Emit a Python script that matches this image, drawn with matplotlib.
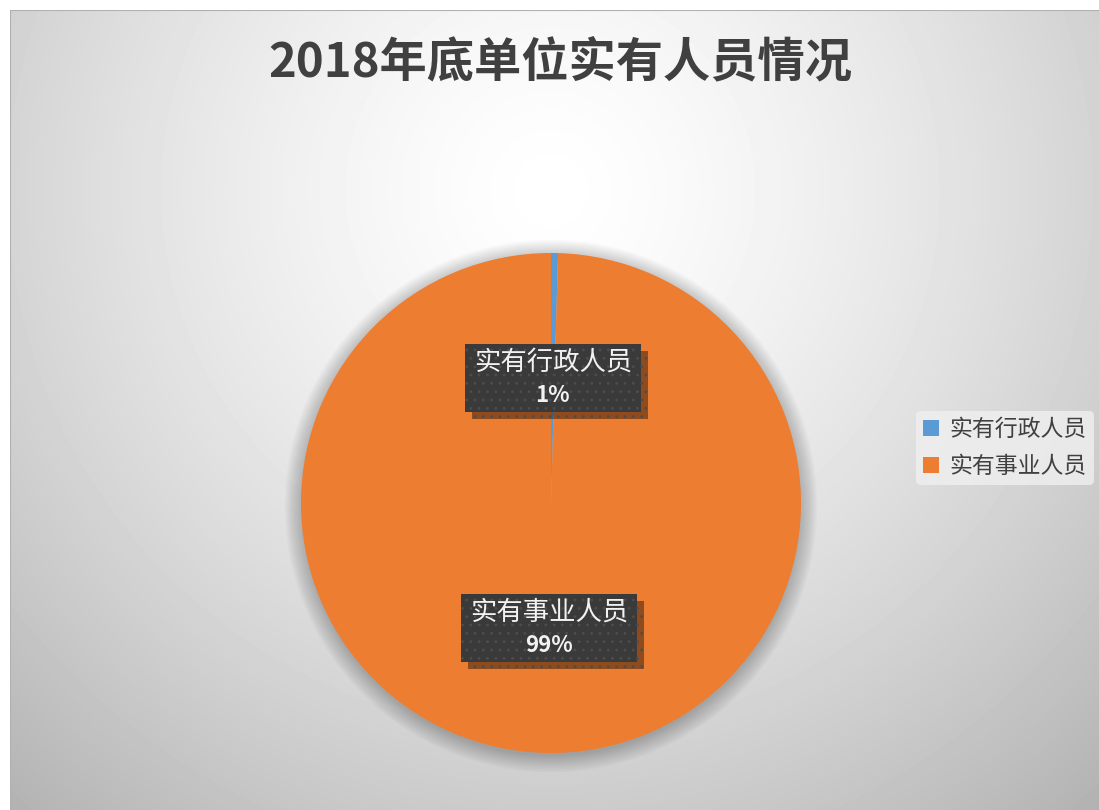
import numpy as np
import matplotlib
matplotlib.use('Agg')
import matplotlib.pyplot as plt
import matplotlib.patheffects as pe
from matplotlib.patches import Rectangle
from matplotlib.transforms import Bbox, IdentityTransform

plt.rcParams['font.family'] = ['Noto Sans CJK SC', 'DejaVu Sans']
plt.rcParams['hatch.linewidth'] = 0.8

# datos del gráfico
titulo = '2018年底单位实有人员情况'
categorias = ['实有行政人员', '实有事业人员']
valores = [0.45, 99.55]
etiquetas_pct = ['1%', '99%']
colores = ['#5B9BD5', '#ED7D31']

W, H = 1099, 810
fig = plt.figure(figsize=(W / 100, H / 100), dpi=100)
fig.patch.set_facecolor('white')

# fondo con degradado radial
ax_bg = fig.add_axes([10 / W, 0, 1 - 10 / W, 1 - 10 / H])
yy, xx = np.mgrid[0:800, 0:1089]
r = np.sqrt(((xx - 540) / 700.0) ** 2 + ((yy - 180) / 700.0) ** 2)
val = 1.0 - 0.24 * np.clip(r, 0, 1.2) ** 1.4
ax_bg.imshow(val, cmap='gray', vmin=0, vmax=1, aspect='auto',
             extent=[0, 1, 0, 1], origin='upper')
ax_bg.set_xlim(0, 1)
ax_bg.set_ylim(0, 1)
ax_bg.axis('off')
ax_bg.plot([0, 1], [1, 1], color='#b0b0b0', lw=1.5, transform=ax_bg.transAxes)
ax_bg.plot([0, 0], [0, 1], color='#b0b0b0', lw=1.5, transform=ax_bg.transAxes)

fig.text(560 / W, 1 - 62 / H, titulo, ha='center', va='center',
         fontsize=34, fontweight='bold', color='#404040')

# pastel
cx, cy, rad = 551, 503, 250
ax = fig.add_axes([(cx - rad - 20) / W, (H - cy - rad - 20) / H,
                   (2 * rad + 40) / W, (2 * rad + 40) / H])
ax.set_aspect('equal')

# sombra suave
for k in np.linspace(1.065, 1.0, 12):
    ax.add_patch(plt.Circle((0.0, -0.012), k, color='black', alpha=0.018, lw=0))

wedges, _ = ax.pie(valores, colors=colores, startangle=90, counterclock=False,
                   radius=1.0, wedgeprops=dict(linewidth=0))
ax.set_xlim(-1.08, 1.08)
ax.set_ylim(-1.08, 1.08)
ax.axis('off')

# etiquetas: nombre (normal) + porcentaje (negrita) dentro de una caja oscura
pares = []
for w, nombre, pct in zip(wedges, categorias, etiquetas_pct):
    ang = np.deg2rad((w.theta1 + w.theta2) / 2)
    x, y = 0.5 * np.cos(ang), 0.5 * np.sin(ang)
    t1 = ax.text(x, y + 0.062, nombre, ha='center', va='center', fontsize=19,
                 color='#f2f2f2', zorder=5)
    t2 = ax.text(x, y - 0.07, pct, ha='center', va='center', fontsize=16,
                 fontweight='bold', color='#f2f2f2', zorder=5)
    pares.append((t1, t2))

fig.canvas.draw()
ren = fig.canvas.get_renderer()
for t1, t2 in pares:
    bb = Bbox.union([t1.get_window_extent(ren), t2.get_window_extent(ren)])
    pad_x, pad_y = 9, 5
    caja = Rectangle((bb.x0 - pad_x, bb.y0 - pad_y), bb.width + 2 * pad_x,
                     bb.height + 2 * pad_y, transform=IdentityTransform(),
                     facecolor='#3a3a3a', edgecolor='#4d4d4d', linewidth=0,
                     hatch='..', zorder=4)
    caja.set_path_effects([pe.SimplePatchShadow(offset=(5, -5), shadow_rgbFace='black',
                                                alpha=0.4), pe.Normal()])
    ax.add_patch(caja)

leg = fig.legend(wedges, categorias, loc='center left',
                 bbox_to_anchor=(905 / W, 1 - 448 / H), fontsize=16.5,
                 frameon=True, handlelength=0.7, handleheight=0.7,
                 handletextpad=0.45, labelspacing=0.62, borderpad=0.3)
leg.get_frame().set_facecolor('#f0f0f0')
leg.get_frame().set_edgecolor('none')
for t in leg.get_texts():
    t.set_color('#404040')

fig.savefig('out.png', dpi=100)
